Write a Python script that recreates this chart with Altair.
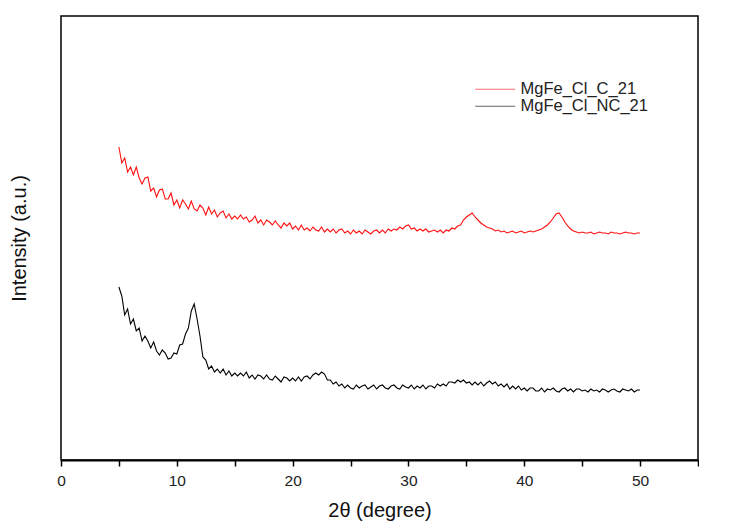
import altair as alt
import pandas as pd

# sampling grid of the diffractograms (2-theta, degrees)
X_START = 5.0
X_STEP = 0.25

series_names = ["MgFe_Cl_C_21", "MgFe_Cl_NC_21"]
series_colors = ["#ff1010", "#000000"]

# intensities (a.u.), one per grid step from 5 to 50
red = [
    # 5.00 - 15.00
    313, 297, 302, 288, 293, 285, 293, 282, 276, 282, 283, 269, 272, 263, 270, 271,
    261, 261, 267, 255, 260, 252, 260, 256, 251, 259, 251, 249, 255, 252, 245, 253,
    246, 250, 243, 247, 249, 242, 246, 241, 244,
    # 15.25 - 25.00
    241, 245, 241, 243, 238, 240, 244, 237, 240, 235, 240, 238, 235, 239, 235, 232,
    237, 234, 237, 231, 234, 230, 235, 230, 232, 229, 233, 230, 229, 233, 228, 231,
    228, 231, 227, 230, 231, 227, 229, 226,
    # 25.25 - 35.00
    230, 227, 229, 226, 230, 228, 226, 229, 230, 227, 230, 227, 231, 229, 231, 230,
    233, 231, 234, 235, 231, 232, 229, 231, 229, 231, 228, 229, 230, 228, 230, 227,
    230, 229, 232, 231, 234, 235, 240, 243,
    # 35.25 - 45.00
    245, 247, 243, 240, 237, 235, 233, 232, 231, 229, 230, 228, 229, 227, 228, 229,
    227, 228, 229, 227, 228, 229, 228, 229, 230, 231, 233, 235, 238, 242, 246, 247,
    243, 238, 234, 231, 229, 228, 227, 228,
    # 45.25 - 50.00
    227, 227, 228, 226, 227, 228, 227, 227, 226, 228, 227, 227, 226, 227, 228, 227,
    227, 226, 227, 227,
]

black = [
    # 5.00 - 15.00
    173, 164, 145, 151, 136, 141, 129, 132, 119, 124, 119, 112, 118, 109, 105, 110,
    107, 101, 102, 107, 106, 115, 116, 126, 132, 149, 156, 141, 124, 103, 100, 91,
    94, 88, 91, 87, 91, 85, 89, 84, 87,
    # 15.25 - 25.00
    84, 87, 84, 88, 82, 85, 81, 85, 84, 81, 85, 81, 80, 84, 81, 78,
    83, 82, 79, 82, 79, 83, 79, 83, 84, 81, 85, 87, 85, 88, 86, 80,
    80, 76, 78, 74, 76, 72, 75, 72,
    # 25.25 - 35.00
    71, 75, 72, 74, 75, 71, 73, 75, 71, 74, 75, 72, 71, 74, 75, 72,
    71, 75, 73, 72, 75, 71, 74, 72, 75, 71, 74, 74, 72, 76, 74, 76,
    74, 78, 78, 77, 80, 78, 80, 77,
    # 35.25 - 45.00
    78, 75, 78, 75, 78, 74, 77, 79, 76, 78, 74, 76, 73, 76, 71, 74,
    71, 74, 70, 72, 69, 72, 72, 69, 69, 72, 68, 71, 70, 72, 69, 68,
    71, 72, 69, 71, 68, 71, 71, 69,
    # 45.25 - 50.00
    70, 68, 71, 69, 70, 68, 71, 70, 68, 70, 71, 69, 68, 71, 70, 69,
    71, 68, 70, 70,
]

assert len(red) == 181, len(red)
assert len(black) == 181, len(black)

x_ticks = [0, 5, 10, 15, 20, 25, 30, 35, 40, 45, 50, 55]

rows = []
for name, vals in zip(series_names, [red, black]):
    for i, v in enumerate(vals):
        rows.append({"angle": X_START + X_STEP * i, "intensity": v, "sample": name})
df = pd.DataFrame(rows)

FONT = "Liberation Sans"

chart = (
    alt.Chart(df)
    .mark_line(strokeWidth=1.1, clip=True)
    .encode(
        x=alt.X(
            "angle:Q",
            scale=alt.Scale(domain=[0, 55], nice=False, zero=False),
            axis=alt.Axis(
                values=x_ticks,
                labelExpr="datum.value % 10 == 0 && datum.value < 55 ? datum.label : ''",
                title="2θ (degree)",
                grid=False,
                domainColor="black",
                domainWidth=2,
                tickColor="black",
                tickWidth=1.5,
                tickSize=6,
                labelFontSize=15.5,
                labelColor="#222222",
                labelPadding=7,
                titleFontSize=20,
                titleFontWeight="normal",
                titleColor="#111111",
                titlePadding=12,
                labelFlush=False,
            ),
        ),
        y=alt.Y(
            "intensity:Q",
            scale=alt.Scale(domain=[0, 444], nice=False, zero=False),
            axis=alt.Axis(
                labels=False,
                ticks=False,
                grid=False,
                domain=False,
                title="Intensity (a.u.)",
                titleFontSize=20,
                titleFontWeight="normal",
                titleColor="#111111",
                titlePadding=32,
            ),
        ),
        color=alt.Color(
            "sample:N",
            scale=alt.Scale(domain=series_names, range=series_colors),
            legend=alt.Legend(
                title=None,
                orient="none",
                legendX=411,
                legendY=65,
                symbolType="M-1,0H7",
                symbolSize=100,
                symbolStrokeWidth=1.2,
                symbolOpacity=0.6,
                labelFontSize=16.5,
                labelColor="#222222",
                rowPadding=-1,
                labelOffset=32,
            ),
        ),
        order=alt.Order("angle:Q"),
    )
    .properties(
        width=637,
        height=444,
        padding={"left": 1, "top": 8, "right": 0, "bottom": 0},
    )
    .configure(font=FONT)
    .configure_view(stroke="black", strokeWidth=1.5)
)

chart.save("out.html", embed_options={"renderer": "svg", "actions": False})
